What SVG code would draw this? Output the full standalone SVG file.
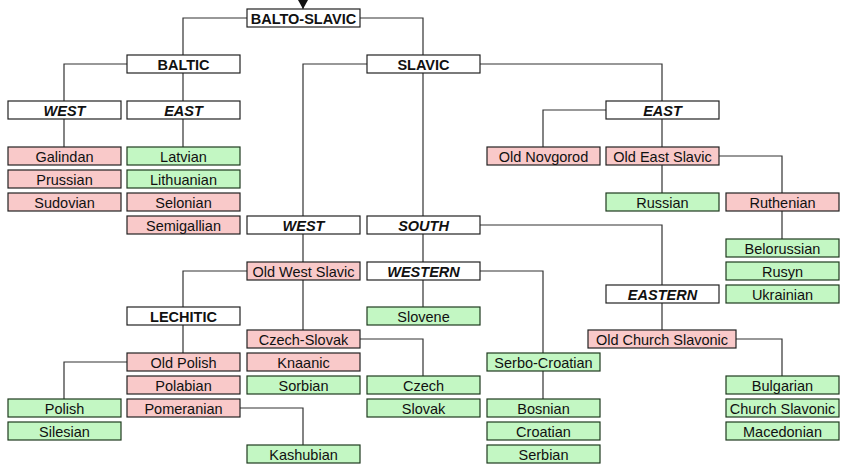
<svg xmlns="http://www.w3.org/2000/svg" width="850" height="472" viewBox="0 0 850 472">
<style>
rect{stroke:#222;stroke-width:1.2}
.h{fill:#fff}
.p{fill:#f9c9c9}
.g{fill:#c3f7c3;stroke:#1f3a1f}
text{font-family:"Liberation Sans",Arial,sans-serif;font-size:14.5px;text-anchor:middle;fill:#111}
.b{font-weight:bold}
.i{font-weight:bold;font-style:italic}
#c path{fill:none;stroke:#333;stroke-width:1.2}
</style>
<rect width="850" height="472" fill="#fff" style="stroke:none"/>
<g id="c">
<path d="M303 0V9"/>
<path d="M247 18H183V55M360 18H423V55"/>
<path d="M127 64H64V101M183 73V101"/>
<path d="M64 119V147M183 119V147"/>
<path d="M367 64H303V216M423 73V216M480 64H662V101"/>
<path d="M606 110H543V147M662 119V147"/>
<path d="M662 165V193M719 156H782V193M782 211V239"/>
<path d="M303 234V262M423 234V262M480 225H662V285"/>
<path d="M247 271H183V307M303 280V330"/>
<path d="M423 280V307M480 271H543V353M543 371V399"/>
<path d="M662 303V330M736 339H782V376"/>
<path d="M183 325V353M127 362H64V399"/>
<path d="M360 339H423V376M240 408H303V445"/>
</g>
<path d="M298 0H308L303 9Z" fill="#111"/>
<g id="balto-slavic"><rect class="h" x="247" y="9" width="113" height="18"/><text class="b" x="303.5" y="23.5">BALTO-SLAVIC</text></g>
<g id="baltic"><rect class="h" x="127" y="55" width="113" height="18"/><text class="b" x="183.5" y="69.5">BALTIC</text></g>
<g id="slavic"><rect class="h" x="367" y="55" width="113" height="18"/><text class="b" x="423.5" y="69.5">SLAVIC</text></g>
<g id="bwest"><rect class="h" x="8" y="101" width="113" height="18"/><text class="i" x="64.5" y="115.5">WEST</text></g>
<g id="beast"><rect class="h" x="127" y="101" width="113" height="18"/><text class="i" x="183.5" y="115.5">EAST</text></g>
<g id="seast"><rect class="h" x="606" y="101" width="113" height="18"/><text class="i" x="662.5" y="115.5">EAST</text></g>
<g id="galindan"><rect class="p" x="8" y="147" width="113" height="18"/><text x="64.5" y="161.5">Galindan</text></g>
<g id="prussian"><rect class="p" x="8" y="170" width="113" height="18"/><text x="64.5" y="184.5">Prussian</text></g>
<g id="sudovian"><rect class="p" x="8" y="193" width="113" height="18"/><text x="64.5" y="207.5">Sudovian</text></g>
<g id="latvian"><rect class="g" x="127" y="147" width="113" height="18"/><text x="183.5" y="161.5">Latvian</text></g>
<g id="lithuanian"><rect class="g" x="127" y="170" width="113" height="18"/><text x="183.5" y="184.5">Lithuanian</text></g>
<g id="selonian"><rect class="p" x="127" y="193" width="113" height="18"/><text x="183.5" y="207.5">Selonian</text></g>
<g id="semigallian"><rect class="p" x="127" y="216" width="113" height="18"/><text x="183.5" y="230.5">Semigallian</text></g>
<g id="oldnovgorod"><rect class="p" x="487" y="147" width="113" height="18"/><text x="543.5" y="161.5">Old Novgorod</text></g>
<g id="oldeastslavic"><rect class="p" x="606" y="147" width="113" height="18"/><text x="662.5" y="161.5">Old East Slavic</text></g>
<g id="russian"><rect class="g" x="606" y="193" width="113" height="18"/><text x="662.5" y="207.5">Russian</text></g>
<g id="ruthenian"><rect class="p" x="726" y="193" width="113" height="18"/><text x="782.5" y="207.5">Ruthenian</text></g>
<g id="swest"><rect class="h" x="247" y="216" width="113" height="18"/><text class="i" x="303.5" y="230.5">WEST</text></g>
<g id="south"><rect class="h" x="367" y="216" width="113" height="18"/><text class="i" x="423.5" y="230.5">SOUTH</text></g>
<g id="belorussian"><rect class="g" x="726" y="239" width="113" height="18"/><text x="782.5" y="253.5">Belorussian</text></g>
<g id="rusyn"><rect class="g" x="726" y="262" width="113" height="18"/><text x="782.5" y="276.5">Rusyn</text></g>
<g id="ukrainian"><rect class="g" x="726" y="285" width="113" height="18"/><text x="782.5" y="299.5">Ukrainian</text></g>
<g id="oldwestslavic"><rect class="p" x="247" y="262" width="113" height="18"/><text x="303.5" y="276.5">Old West Slavic</text></g>
<g id="western"><rect class="h" x="367" y="262" width="113" height="18"/><text class="i" x="423.5" y="276.5">WESTERN</text></g>
<g id="eastern"><rect class="h" x="606" y="285" width="113" height="18"/><text class="i" x="662.5" y="299.5">EASTERN</text></g>
<g id="lechitic"><rect class="h" x="127" y="307" width="113" height="18"/><text class="b" x="183.5" y="321.5">LECHITIC</text></g>
<g id="slovene"><rect class="g" x="367" y="307" width="113" height="18"/><text x="423.5" y="321.5">Slovene</text></g>
<g id="czechslovak"><rect class="p" x="247" y="330" width="113" height="18"/><text x="303.5" y="344.5">Czech-Slovak</text></g>
<g id="ocs"><rect class="p" x="588" y="330" width="148" height="18"/><text x="662" y="344.5">Old Church Slavonic</text></g>
<g id="oldpolish"><rect class="p" x="127" y="353" width="113" height="18"/><text x="183.5" y="367.5">Old Polish</text></g>
<g id="knaanic"><rect class="p" x="247" y="353" width="113" height="18"/><text x="303.5" y="367.5">Knaanic</text></g>
<g id="serbocroatian"><rect class="g" x="487" y="353" width="113" height="18"/><text x="543.5" y="367.5">Serbo-Croatian</text></g>
<g id="polabian"><rect class="p" x="127" y="376" width="113" height="18"/><text x="183.5" y="390.5">Polabian</text></g>
<g id="sorbian"><rect class="g" x="247" y="376" width="113" height="18"/><text x="303.5" y="390.5">Sorbian</text></g>
<g id="czech"><rect class="g" x="367" y="376" width="113" height="18"/><text x="423.5" y="390.5">Czech</text></g>
<g id="bulgarian"><rect class="g" x="726" y="376" width="113" height="18"/><text x="782.5" y="390.5">Bulgarian</text></g>
<g id="polish"><rect class="g" x="8" y="399" width="113" height="18"/><text x="64.5" y="413.5">Polish</text></g>
<g id="pomeranian"><rect class="p" x="127" y="399" width="113" height="18"/><text x="183.5" y="413.5">Pomeranian</text></g>
<g id="slovak"><rect class="g" x="367" y="399" width="113" height="18"/><text x="423.5" y="413.5">Slovak</text></g>
<g id="bosnian"><rect class="g" x="487" y="399" width="113" height="18"/><text x="543.5" y="413.5">Bosnian</text></g>
<g id="churchslavonic"><rect class="g" x="726" y="399" width="113" height="18"/><text x="782.5" y="413.5">Church Slavonic</text></g>
<g id="silesian"><rect class="g" x="8" y="422" width="113" height="18"/><text x="64.5" y="436.5">Silesian</text></g>
<g id="croatian"><rect class="g" x="487" y="422" width="113" height="18"/><text x="543.5" y="436.5">Croatian</text></g>
<g id="macedonian"><rect class="g" x="726" y="422" width="113" height="18"/><text x="782.5" y="436.5">Macedonian</text></g>
<g id="kashubian"><rect class="g" x="247" y="445" width="113" height="18"/><text x="303.5" y="459.5">Kashubian</text></g>
<g id="serbian"><rect class="g" x="487" y="445" width="113" height="18"/><text x="543.5" y="459.5">Serbian</text></g>
</svg>
